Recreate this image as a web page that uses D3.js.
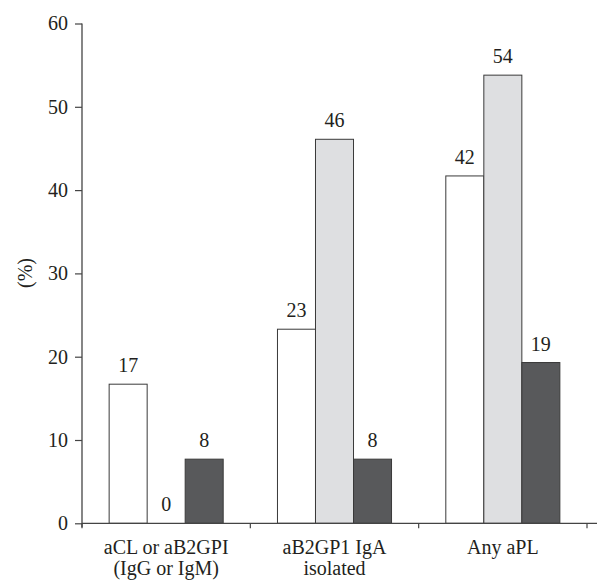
<!DOCTYPE html>
<html>
<head>
<meta charset="utf-8">
<script src="https://cdn.jsdelivr.net/npm/d3@7"></script>
<style>
  html, body { margin: 0; padding: 0; background: #fff; }
  svg { display: block; }
</style>
</head>
<body>
<svg id="chart" width="599" height="584"></svg>
<script>
const categories = [["aCL or aB2GPI", "(IgG or IgM)"], ["aB2GP1 IgA", "isolated"], ["Any aPL"]];
const seriesNames = ["s1", "s2", "s3"];
const seriesA = [16.7, 23.3, 41.7];
const seriesB = [0, 46.1, 53.8];
const seriesC = [7.7, 7.7, 19.3];
const labelsA = ["17", "23", "42"];
const labelsB = ["0", "46", "54"];
const labelsC = ["8", "8", "19"];
const yTicks = [0, 10, 20, 30, 40, 50, 60];
const colors = ["#ffffff", "#dedfe1", "#58595b"];

const FONT = "'Liberation Serif', 'Times New Roman', serif";
const FS = "20px";
const TXT = "#231f20";

const svg = d3.select("#chart");
const mLeft = 82, mRight = 587, mTop = 23.5, mBottom = 523.3;

const x0 = d3.scaleBand().domain(d3.range(categories.length)).range([mLeft, mRight]).padding(0);
const x1 = d3.scaleBand().domain(seriesNames).range([0, x0.bandwidth()]).paddingInner(0).paddingOuter(0.714);
const y = d3.scaleLinear().domain([0, 60]).range([mBottom, mTop]);

const values = [seriesA, seriesB, seriesC];
const labels = [labelsA, labelsB, labelsC];

const data = [];
categories.forEach((c, i) => {
  seriesNames.forEach((s, j) => {
    data.push({ cat: i, s, j, v: values[j][i], lab: labels[j][i] });
  });
});

// bars
svg.append("g").selectAll("rect")
  .data(data.filter(d => d.v > 0))
  .join("rect")
  .attr("x", d => x0(d.cat) + x1(d.s))
  .attr("y", d => y(d.v))
  .attr("width", x1.bandwidth())
  .attr("height", d => y(0) - y(d.v))
  .attr("fill", d => colors[d.j])
  .attr("stroke", "#3a3a3a")
  .attr("stroke-width", 1);

// value labels
svg.append("g").selectAll("text")
  .data(data)
  .join("text")
  .attr("x", d => x0(d.cat) + x1(d.s) + x1.bandwidth() / 2)
  .attr("y", d => y(d.v) - 12)
  .attr("text-anchor", "middle")
  .style("font-family", FONT).style("font-size", FS).style("fill", TXT)
  .text(d => d.lab);

// y axis
const yAxis = svg.append("g")
  .attr("transform", `translate(${mLeft},0)`)
  .call(d3.axisLeft(y).tickValues(yTicks).tickSize(7).tickPadding(7));
yAxis.select(".domain").attr("d", `M0,${mTop}V${mBottom + 4}`).attr("stroke", "#444").attr("stroke-width", 1.3);
yAxis.selectAll(".tick line").attr("stroke", "#444").attr("stroke-width", 1.2);
yAxis.selectAll(".tick text")
  .style("font-family", FONT).style("font-size", FS).style("fill", TXT);

// x axis
const xAxis = svg.append("g").attr("transform", `translate(0,${mBottom})`);
xAxis.append("line").attr("x1", mLeft).attr("x2", 597).attr("y1", 0).attr("y2", 0)
  .attr("stroke", "#444").attr("stroke-width", 1.3);
const boundaries = d3.range(categories.length + 1).map(i => i < categories.length ? x0(i) : x0(i - 1) + x0.bandwidth());
xAxis.selectAll("line.tk").data(boundaries).join("line").attr("class", "tk")
  .attr("x1", d => d).attr("x2", d => d).attr("y1", 0).attr("y2", 5)
  .attr("stroke", "#444").attr("stroke-width", 1.2);
const catText = xAxis.selectAll("text.cat").data(categories).join("text").attr("class", "cat")
  .attr("x", (d, i) => x0(i) + x0.bandwidth() / 2)
  .attr("y", 31)
  .attr("text-anchor", "middle")
  .style("font-family", FONT).style("font-size", FS).style("fill", TXT);
catText.selectAll("tspan").data(d => d).join("tspan")
  .attr("x", function() { return this.parentNode.getAttribute("x"); })
  .attr("dy", (d, i) => i === 0 ? 0 : 20.5)
  .text(d => d);

// y label
svg.append("text")
  .attr("transform", `translate(32,273) rotate(-90)`)
  .attr("text-anchor", "middle")
  .style("font-family", FONT).style("font-size", FS).style("fill", TXT)
  .text("(%)");
</script>
</body>
</html>
